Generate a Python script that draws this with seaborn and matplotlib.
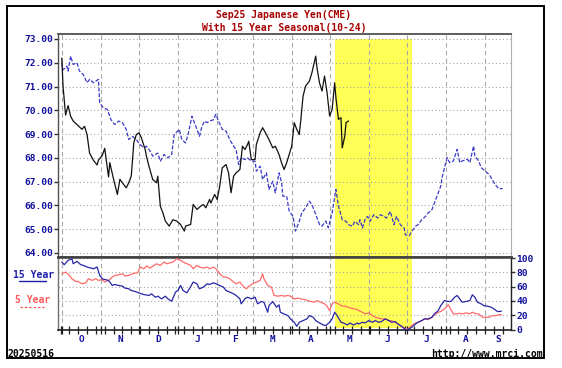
import pandas as pd
import matplotlib
matplotlib.use("Agg")
import matplotlib.pyplot as plt
import matplotlib.transforms as mtrans
from matplotlib.ticker import FixedLocator, FormatStrFormatter
from matplotlib.lines import Line2D
from matplotlib.patches import Rectangle
import seaborn as sns

BASE = pd.Timestamp("2024-10-01")   # x values are days since this date
X_END = 355.6
SEASONAL_WINDOW = (216.5, 277.5)    # yellow band, ~May 5 .. Jul 5

# Sep25 yen futures (actual, black)
actual_day = [0, 1, 3, 5, 7, 9, 12, 14, 16, 18, 20, 22, 25, 28, 29, 32, 34, 37, 38, 41,
              44, 46, 48, 51, 53, 55, 57, 59, 61, 63, 66, 67, 69, 72, 75, 76, 78, 80, 82, 85,
              88, 91, 94, 97, 98, 102, 104, 107, 110, 112, 114, 117, 118, 121, 123, 125, 127, 130, 132, 134,
              136, 138, 141, 143, 145, 147, 148, 150, 153, 154, 157, 159, 162, 164, 167, 169, 172, 174, 176, 178,
              180, 182, 184, 186, 188, 189, 191, 193, 196, 198, 201, 202, 204, 206, 208, 210, 212, 214, 216, 217,
              219, 221, 222, 224, 225, 227]
actual_val = [72.2, 71.0, 69.8, 70.2, 69.75, 69.55, 69.4, 69.3, 69.2, 69.33, 68.98, 68.2, 67.9, 67.7, 67.9, 68.1, 68.4, 67.2, 67.8, 67.1,
              66.46, 67.1, 66.95, 66.74, 66.95, 67.23, 68.63, 68.98, 69.05, 68.85, 68.35, 68.07, 67.65, 67.09, 66.95, 67.23, 65.97, 65.69, 65.34, 65.13,
              65.4, 65.34, 65.2, 64.92, 65.13, 65.2, 66.04, 65.83, 65.97, 66.04, 65.9, 66.25, 66.1, 66.46, 66.25, 66.8, 67.58, 67.72, 67.37, 66.53,
              67.23, 67.37, 67.51, 68.49, 68.35, 68.56, 68.7, 67.93, 67.93, 68.56, 69.05, 69.27, 68.98, 68.77, 68.42, 68.49, 68.14, 67.79, 67.51, 67.79,
              68.14, 68.49, 69.48, 69.2, 68.98, 69.48, 70.6, 71.02, 71.23, 71.58, 72.28, 71.79, 71.16, 70.81, 71.44, 70.74, 69.76, 70.04, 71.16, 70.53,
              69.62, 69.69, 68.42, 68.91, 69.48, 69.55]

# 15 year seasonal scaled to price (blue dashed)
seas_day = [0, 1, 4, 5, 7, 9, 12, 14, 17, 20, 22, 25, 29, 30, 33, 36, 39, 42, 45, 48,
            51, 53, 56, 59, 62, 65, 67, 70, 72, 76, 78, 81, 84, 87, 89, 93, 95, 98, 100, 103,
            105, 109, 111, 113, 115, 117, 120, 122, 124, 127, 130, 133, 136, 138, 140, 142, 145, 147, 150, 153,
            154, 157, 159, 162, 164, 167, 169, 172, 174, 175, 178, 180, 183, 185, 188, 190, 193, 196, 198, 201,
            204, 206, 209, 211, 214, 217, 219, 222, 225, 227, 230, 232, 235, 236, 238, 240, 242, 244, 247, 250,
            252, 255, 257, 260, 263, 265, 268, 271, 272, 275, 277, 280, 282, 285, 288, 290, 293, 296, 298, 300,
            301, 303, 305, 307, 310, 313, 315, 317, 321, 323, 326, 327, 330, 332, 335, 338, 340, 343, 346, 349]
seas_val = [72.0, 71.7, 71.86, 71.65, 72.28, 71.93, 72.0, 71.65, 71.5, 71.16, 71.3, 71.16, 71.3, 70.32, 70.1, 70.04, 69.6, 69.4, 69.55, 69.48,
            69.2, 68.77, 68.9, 68.77, 68.56, 68.42, 68.49, 68.28, 68.07, 68.2, 67.86, 68.14, 68.0, 68.14, 68.98, 69.2, 68.77, 68.63, 68.98, 69.75,
            69.48, 68.91, 69.33, 69.55, 69.48, 69.55, 69.6, 69.83, 69.55, 69.2, 69.13, 68.77, 68.49, 68.35, 67.72, 68.0, 67.93, 68.0, 67.86, 67.86,
            67.44, 67.65, 67.09, 67.37, 66.67, 67.02, 66.53, 67.37, 66.95, 66.39, 66.39, 65.76, 65.55, 64.92, 65.34, 65.69, 65.9, 66.18, 66.04, 65.62,
            65.2, 65.13, 65.34, 65.06, 65.69, 66.67, 65.97, 65.4, 65.33, 65.19, 65.12, 65.33, 65.19, 65.4, 65.05, 65.4, 65.54, 65.33, 65.61, 65.47,
            65.61, 65.54, 65.47, 65.75, 65.19, 65.54, 65.19, 65.05, 64.76, 64.72, 64.9, 65.12, 65.19, 65.4, 65.54, 65.68, 65.82, 66.25, 66.53, 66.81,
            67.16, 67.59, 68.01, 67.8, 67.87, 68.36, 67.8, 67.87, 67.94, 67.8, 68.5, 68.08, 67.87, 67.59, 67.45, 67.31, 67.16, 66.88, 66.7, 66.71]

# 15 year seasonal index, 0-100 (blue)
y15_day = [0, 2, 5, 8, 9, 12, 15, 17, 20, 23, 25, 28, 30, 32, 34, 37, 40, 42, 45, 48,
           50, 53, 55, 58, 61, 63, 66, 69, 71, 74, 76, 79, 82, 84, 87, 90, 92, 94, 96, 99,
           101, 104, 107, 109, 112, 115, 117, 120, 122, 125, 128, 130, 133, 136, 138, 141, 142, 145, 147, 150,
           153, 155, 158, 160, 163, 164, 167, 170, 172, 173, 176, 179, 181, 184, 186, 188, 191, 194, 196, 199,
           201, 204, 207, 209, 212, 214, 216, 218, 221, 223, 226, 228, 231, 234, 235, 238, 240, 243, 246, 248,
           251, 253, 256, 259, 261, 264, 266, 269, 272, 274, 277, 280, 282, 285, 287, 290, 293, 295, 298, 300,
           303, 306, 308, 311, 313, 315, 317, 320, 323, 325, 327, 329, 332, 334, 337, 340, 342, 345, 348]
y15_val = [94.4, 90.7, 96.7, 99, 92, 95.3, 90.7, 89.7, 87.4, 86, 85, 87.4, 75.7, 71, 70, 68.7, 61.7, 63, 61.7, 60.7,
           58, 57, 54.7, 53.3, 51.4, 50, 48.6, 47.7, 50, 45.3, 46.7, 43, 46.7, 43, 39.7, 52.3, 54.7, 61.7, 54.7, 51.4,
           57, 66.4, 64, 57, 59.3, 64, 63, 65.4, 64, 61.7, 59.3, 54.7, 52.3, 50, 47.7, 43, 36, 43, 45.3, 43,
           45.3, 36, 39.3, 38.3, 24.3, 33.6, 39.3, 31.3, 34.6, 24.3, 22, 19.6, 15, 10.3, 4.7, 10.3, 12.6, 15, 19.6, 17.3,
           12.6, 9.3, 6.5, 5.6, 10.3, 15, 24.3, 19.6, 10.3, 9.3, 6.5, 9.3, 6.5, 9.3, 7.9, 10.3, 9.3, 12.6, 10.3, 12.6,
           10.3, 11.2, 15, 12.6, 10.3, 11.2, 7.9, 4.7, 0, 0, 3.3, 7.9, 10.3, 12.6, 15, 15, 17.3, 22, 26.6, 33.6,
           40.6, 39.3, 39.3, 45.3, 47.7, 43, 38.3, 39.3, 40.6, 48.6, 45.3, 38.3, 36, 33.6, 32.7, 31.3, 29, 25.2, 25.7]

# 5 year seasonal index, 0-100 (red)
y5_day = [0, 3, 6, 8, 11, 13, 16, 19, 21, 24, 27, 29, 32, 34, 37, 40, 42, 45, 48, 50,
          53, 56, 60, 62, 65, 67, 70, 73, 75, 78, 81, 83, 86, 88, 91, 94, 96, 99, 102, 104,
          107, 109, 112, 115, 117, 120, 122, 125, 128, 130, 133, 136, 138, 141, 143, 146, 149, 151, 154, 157,
          159, 160, 163, 166, 168, 171, 174, 176, 179, 181, 184, 187, 189, 192, 195, 197, 200, 202, 205, 208,
          210, 212, 214, 216, 219, 221, 224, 227, 229, 232, 234, 235, 238, 240, 243, 246, 248, 251, 253, 256,
          259, 261, 264, 266, 269, 272, 274, 277, 280, 282, 285, 287, 290, 293, 295, 298, 300, 303, 306, 308,
          310, 312, 315, 317, 320, 323, 325, 328, 330, 333, 336, 338, 341, 344, 346, 348]
y5_val = [78, 80.4, 75.7, 71, 67.3, 67.3, 64, 65.4, 71, 68.7, 71, 68.7, 70, 66.4, 68.7, 73.4, 75.7, 76.6, 78, 74.8,
          75.7, 78, 79.4, 87.4, 85, 88.8, 86, 89.7, 92, 89.7, 94.4, 92, 93.5, 94.4, 99, 96.7, 94.4, 92, 89.7, 85,
          89.7, 87.4, 86, 87.4, 85, 87.4, 85, 78, 73.4, 73.4, 71, 66.4, 64, 66.4, 61.7, 57, 61.7, 64, 66.4, 68.7,
          78, 71, 61.7, 59.3, 47.7, 46.7, 47.7, 46.7, 47.7, 46.7, 43, 43.9, 43, 42, 40.6, 39.3, 38.3, 40.6, 38.3, 36,
          32.7, 26.6, 36, 38.3, 36, 33.6, 32.7, 31.3, 29.9, 29, 28, 26.6, 24.3, 22, 23.4, 19.6, 17.3, 15.9, 15, 15,
          12.6, 12.6, 10.3, 7.9, 4.7, 0.9, 0.9, 5.6, 9.3, 10.3, 12.6, 15, 14, 17.3, 20.6, 24.3, 25.2, 29, 34.6, 28,
          22, 22, 22.9, 22, 23.4, 22, 24.3, 22, 22, 17.3, 17.3, 17.3, 19.6, 19.6, 21, 20.6]

month_letters = ["O", "N", "D", "J", "F", "M", "A", "M", "J", "J", "A", "S"]

LBL_BLUE = "#10109c"
TITLE_RED = "#a80000"
GRID = "#a8a8a8"
W, H = 562, 368


def fx(px):
    return px / W


def fy(py):
    return 1 - py / H


def main():
    sns.set_style("white")
    plt.rcParams['font.family'] = ['DejaVu Sans Mono']
    plt.rcParams['font.weight'] = 'bold'
    plt.rcParams['font.size'] = 6.8

    fig = plt.figure(figsize=(W / 100, H / 100), dpi=100)
    ax1 = fig.add_axes([fx(58), fy(257), fx(511) - fx(58), fy(34) - fy(257)])
    ax2 = fig.add_axes([fx(58), fy(330), fx(511) - fx(58), fy(257) - fy(330)], sharex=ax1)

    month_starts = [(m - BASE).days for m in pd.date_range("2024-10-01", "2025-09-01", freq="MS")]
    mondays = [(d - BASE).days for d in pd.date_range("2024-09-30", "2025-09-22", freq="W-MON")]
    month_mid = []
    for i, s in enumerate(month_starts):
        e = month_starts[i + 1] if i + 1 < len(month_starts) else X_END
        month_mid.append((s + min(e, X_END)) / 2)

    ax1.set_ylim(63.83, 73.21)
    ax2.set_ylim(-0.5, 101.4)
    ax1.set_xlim(-3, X_END)

    # seasonal window
    ax1.axvspan(*SEASONAL_WINDOW, ymin=0, ymax=(73 - 63.83) / (73.21 - 63.83),
                color="#ffff55", lw=0, zorder=0.2)
    ax2.axvspan(*SEASONAL_WINDOW, ymin=(2.5 + 0.5) / 101.9, ymax=1,
                color="#ffff55", lw=0, zorder=0.2)

    for ax in (ax1, ax2):
        ax.set_axisbelow(True)
        ax.xaxis.set_major_locator(FixedLocator(month_starts))
        ax.xaxis.grid(True, color=GRID, lw=0.8, ls=(0, (4, 3)))
        ax.yaxis.grid(True, color=GRID, lw=0.8, ls=(0, (1, 2.2)))

    ax1.yaxis.set_major_locator(FixedLocator(range(64, 74)))
    ax1.yaxis.set_major_formatter(FormatStrFormatter('%.2f'))
    ax2.yaxis.set_major_locator(FixedLocator([0, 20, 40, 60, 80, 100]))

    df_act = pd.DataFrame({"day": actual_day, "val": actual_val})
    df_seas = pd.DataFrame({"day": seas_day, "val": seas_val})
    df15 = pd.DataFrame({"day": y15_day, "val": y15_val})
    df5 = pd.DataFrame({"day": y5_day, "val": y5_val})

    sns.lineplot(data=df_seas, x="day", y="val", ax=ax1, color="#3a3ac8", lw=0.9,
                 linestyle=(0, (3.2, 1.4)), estimator=None, zorder=3)
    sns.lineplot(data=df_act, x="day", y="val", ax=ax1, color="#111111", lw=0.9,
                 estimator=None, zorder=4)
    sns.lineplot(data=df5, x="day", y="val", ax=ax2, color="#ff6a6a", lw=0.9,
                 estimator=None, zorder=3)
    sns.lineplot(data=df15, x="day", y="val", ax=ax2, color="#2626a8", lw=0.9,
                 estimator=None, zorder=4)

    for ax in (ax1, ax2):
        ax.set_xlabel("")
        ax.set_ylabel("")

    # top panel frame / ticks
    ax1.spines['top'].set(color="#505050", lw=1.3)
    ax1.spines['left'].set(color="#505050", lw=1.0)
    ax1.spines['right'].set(color="#b0b0b0", lw=0.8)
    ax1.spines['bottom'].set(color="#404040", lw=1.8)
    ax1.tick_params(axis='x', which='both', length=0, labelbottom=False)
    ax1.tick_params(axis='y', which='major', left=True, length=3, width=1, pad=0.8,
                    colors="#303030", labelcolor=LBL_BLUE, labelsize=6.8)

    # bottom panel frame / ticks
    ax2.spines['top'].set(color="#404040", lw=1.8)
    ax2.spines['left'].set(color="#707070", lw=1.0)
    ax2.spines['right'].set(color="#202020", lw=1.0)
    ax2.spines['bottom'].set(color="#202020", lw=1.2)
    ax2.yaxis.tick_right()
    ax2.tick_params(axis='y', which='major', right=True, left=False, length=3, width=1, pad=0.8,
                    colors="#303030", labelcolor=LBL_BLUE, labelsize=6.8)
    ax2.xaxis.set_minor_locator(FixedLocator(mondays))
    ax2.tick_params(axis='x', which='both', bottom=True, direction='inout', length=5.5,
                    width=0.9, colors="#202020", labelbottom=False)

    # month letters
    tr = mtrans.blended_transform_factory(ax2.transData, fig.transFigure)
    for lab, xm in zip(month_letters, month_mid):
        fig.text(xm, fy(339), lab, transform=tr, ha='center', va='center',
                 color=LBL_BLUE, fontsize=6.8)

    # titles & side texts
    fig.text(fx(284), fy(15), "Sep25 Japanese Yen(CME)", ha='center', va='center',
             color=TITLE_RED, fontsize=7)
    fig.text(fx(284), fy(28), "With 15 Year Seasonal(10-24)", ha='center', va='center',
             color=TITLE_RED, fontsize=7)
    fig.text(fx(13), fy(275), "15 Year", ha='left', va='center', color="#1c1ca8", fontsize=7)
    fig.add_artist(Line2D([fx(19), fx(46)], [fy(281), fy(281)], color="#1c1ca8", lw=1.0))
    fig.text(fx(15), fy(300), "5 Year", ha='left', va='center', color="#ff5a5a", fontsize=7)
    fig.add_artist(Line2D([fx(20), fx(44)], [fy(307), fy(307)], color="#ff5a5a", lw=0.9,
                          ls=(0, (2, 1.5))))
    fig.text(fx(8), fy(354), "20250516", ha='left', va='center', color="black", fontsize=7)
    fig.text(fx(543), fy(354), "http://www.mrci.com", ha='right', va='center',
             color="black", fontsize=7)

    fig.add_artist(Rectangle((fx(7), fy(358)), fx(544) - fx(7), fy(6) - fy(358),
                             transform=fig.transFigure, fill=False, ec="black", lw=1.4))

    fig.savefig("out.png", dpi=100)
    plt.close(fig)


if __name__ == "__main__":
    main()
